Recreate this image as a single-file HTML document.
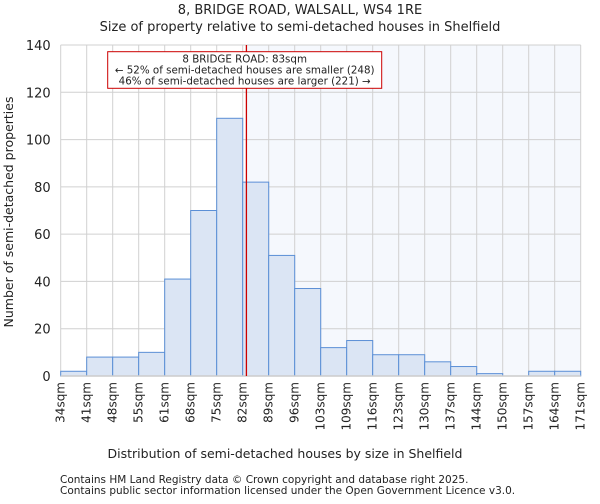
<!DOCTYPE html>
<html><head><meta charset="utf-8"><style>
body{margin:0;background:#fff;font-family:"DejaVu Sans","Liberation Sans",sans-serif;}
svg text{font-family:"DejaVu Sans","Liberation Sans",sans-serif;fill:#222;}
</style></head><body>
<svg id="c" width="600" height="500" xmlns="http://www.w3.org/2000/svg">
<text x="300" y="14" text-anchor="middle" font-size="13">8, BRIDGE ROAD, WALSALL, WS4 1RE</text>
<text x="300" y="31" text-anchor="middle" font-size="13">Size of property relative to semi-detached houses in Shelfield</text>
<g id="grid"></g><g id="bars"></g><g id="axes"></g><g id="ann"></g>
<text x="285" y="458" text-anchor="middle" font-size="12.5">Distribution of semi-detached houses by size in Shelfield</text>
<text transform="translate(13,212) rotate(-90)" text-anchor="middle" font-size="12.5">Number of semi-detached properties</text>
<text x="60" y="483" font-size="10.5" fill="#444">Contains HM Land Registry data © Crown copyright and database right 2025.</text>
<text x="60" y="494" font-size="10.5" fill="#444">Contains public sector information licensed under the Open Government Licence v3.0.</text>
</svg>
<script>
const binLabels=[34,41,48,55,61,68,75,82,89,96,103,109,116,123,130,137,144,150,157,164,171];
const counts=[2,8,8,10,41,70,109,82,51,37,12,15,9,9,6,4,1,0,2,2];
const yTicks=[0,20,40,60,80,100,120,140];
const propertySize=83;
const NS="http://www.w3.org/2000/svg";
const L=60.7,R=580.7,T=45,B=376,yMax=140;
const bw=(R-L)/counts.length;
function xi(i){return L+i*bw;}
function xv(v){for(let i=0;i<binLabels.length-1;i++){if(v>=binLabels[i]&&v<=binLabels[i+1])return xi(i+(v-binLabels[i])/(binLabels[i+1]-binLabels[i]));}return R;}
function y(v){return B-(v/yMax)*(B-T);}
function mk(tag,at,parent){const e=document.createElementNS(NS,tag);for(const k in at)e.setAttribute(k,at[k]);document.getElementById(parent).appendChild(e);return e;}
const px=xv(propertySize);
let sh=mk('rect',{x:px,y:T,width:R-px,height:B-T,fill:'#f5f8fd'},'grid');


for(let i=0;i<binLabels.length;i++){
 let g=mk('line',{x1:xi(i),x2:xi(i),y1:T,y2:B,stroke:'#d0d0d0','stroke-width':1},'grid');
 
 
 let t=mk('text',{transform:`translate(${xi(i)+4},${B+6}) rotate(-90)`,'text-anchor':'end','font-size':12},'axes');
 t.textContent=binLabels[i]+'sqm';
 
 
}
yTicks.forEach(v=>{
 let g=mk('line',{x1:L,x2:R,y1:y(v),y2:y(v),stroke:'#d0d0d0','stroke-width':1},'grid');
 
 
 let t=mk('text',{x:L-10,y:y(v)+5,'text-anchor':'end','font-size':13},'axes');
 t.textContent=v;
 
 
});
counts.forEach((c,i)=>{
 if(c<=0)return;
 let r=mk('rect',{x:xi(i),y:y(c),width:bw,height:B-y(c),fill:'#dbe5f4',stroke:'#5b8fd6','stroke-width':1},'bars');
 
 
});
let ax=mk('line',{x1:L,x2:R,y1:B,y2:B,stroke:'#ccc','stroke-width':1.5},'axes');


let rl=mk('line',{x1:px,x2:px,y1:T,y2:B,stroke:'#cc0000','stroke-width':1.3},'ann');


let bx=mk('rect',{x:107.7,y:51.7,width:274,height:36.6,fill:'#fff',stroke:'#cc0000','stroke-width':1},'ann');


[['8 BRIDGE ROAD: 83sqm',62.5],['← 52% of semi-detached houses are smaller (248)',73.5],['46% of semi-detached houses are larger (221) →',84.5]].forEach(([s,yy])=>{
 let t=mk('text',{x:244.7,y:yy,'text-anchor':'middle','font-size':10.3},'ann');
 t.textContent=s;
 
 
});
</script>
</body></html>
